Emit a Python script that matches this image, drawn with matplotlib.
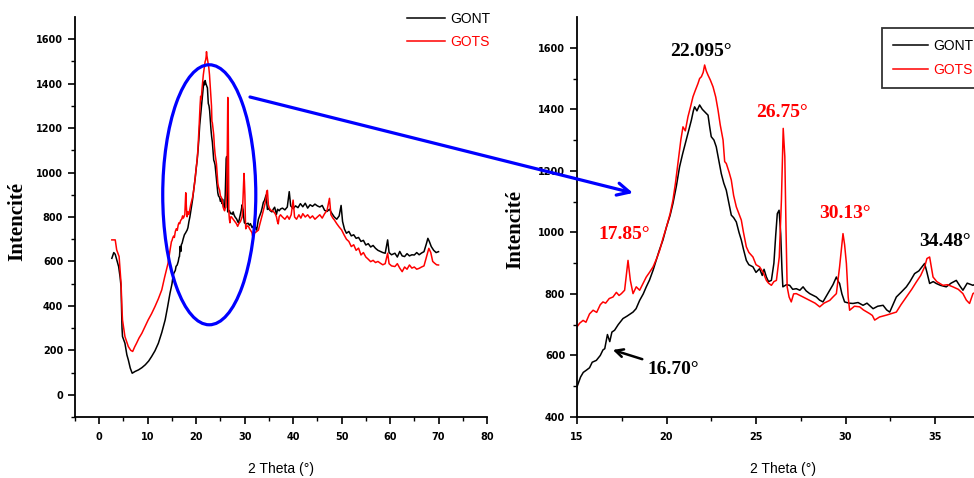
import matplotlib
matplotlib.use("Agg")
import matplotlib.pyplot as plt
from matplotlib.patches import Ellipse

# GONT (black) diffractogram
gont_x = [2.6, 3.0, 3.3, 3.7, 4.0, 4.3, 4.5, 4.7, 4.8, 5.3, 5.7, 6.0, 6.4, 6.8, 7.4, 8.1, 8.8, 9.5,
          10.2, 10.8, 11.5, 12.2, 12.9, 13.6, 14.1, 14.6,
          15.0, 15.2, 15.35, 15.52, 15.7, 15.85, 16.08, 16.3, 16.45, 16.55, 16.7, 16.83, 16.95, 17.1,
          17.3, 17.57, 17.8, 18.13, 18.3, 18.5, 18.7, 18.87, 19.05, 19.25, 19.4, 19.6, 19.8, 20.0,
          20.2, 20.36, 20.55, 20.73, 20.9, 21.1, 21.25, 21.39, 21.5, 21.57, 21.7, 21.85, 22.0, 22.13,
          22.25, 22.32, 22.42, 22.5, 22.65, 22.78, 22.9, 23.06, 23.2, 23.34, 23.5, 23.62, 23.75, 23.9,
          24.05, 24.18, 24.3, 24.46, 24.6, 24.83, 25.0, 25.2, 25.35, 25.45, 25.58, 25.7, 25.86, 26.0,
          26.1, 26.19, 26.29, 26.38, 26.45, 26.5, 26.7, 26.88, 27.05, 27.25, 27.45, 27.63, 27.8, 28.0,
          28.2, 28.37, 28.55, 28.74, 28.9, 29.12, 29.3, 29.49, 29.6, 29.67, 29.8, 29.95, 30.2, 30.42,
          30.7, 30.98, 31.2, 31.54, 31.8, 32.1, 32.3, 32.47, 32.65, 32.84, 33.1, 33.4, 33.6, 33.86,
          34.1, 34.3, 34.42, 34.55, 34.7, 34.9, 35.07, 35.3, 35.63, 35.9, 36.19, 36.4, 36.56, 36.8,
          37.12, 37.4,
          37.8, 38.3, 38.8, 39.2, 39.5, 40.0, 40.5, 41.0, 41.5, 42.0, 42.5, 43.0, 43.5, 44.0, 44.5,
          45.0, 45.5, 46.0, 46.5, 47.0, 47.5, 48.0, 48.5, 49.0, 49.5, 49.9, 50.2, 50.6, 51.0, 51.5,
          52.0, 52.5, 53.0, 53.5, 54.0, 54.5, 55.0, 55.5, 56.0, 56.5, 57.0, 57.5, 58.0, 58.5, 59.0,
          59.5, 59.8, 60.3, 61.0, 61.5, 62.0, 62.5, 63.0, 63.5, 64.0, 64.5, 65.0, 65.5, 66.0, 66.5,
          67.0, 67.5, 67.8, 68.1, 68.5, 69.0, 69.5, 70.0]
gont_y = [614, 640, 632, 600, 577, 530, 487, 300, 262, 232, 180, 157, 120, 97, 105, 112, 122, 135,
          152, 172, 198, 232, 280, 337, 395, 457,
          498, 530, 545, 552, 560, 578, 584, 600, 618, 622, 668, 645, 676, 682,
          700, 720, 728, 741, 752, 779, 800, 823, 845, 877, 905, 942, 975, 1018,
          1055, 1094, 1150, 1213, 1255, 1300, 1335, 1365, 1395, 1408, 1395, 1414, 1400, 1392,
          1385, 1381, 1340, 1311, 1300, 1278, 1240, 1191, 1160, 1137, 1090, 1056, 1048, 1034,
          1000, 975, 945, 909, 895, 888, 870, 882, 860, 880, 855, 840, 844, 900,
          990, 1061, 1072, 996, 880, 823, 830, 828, 815, 817, 812, 823, 810, 801,
          795, 790, 780, 774, 790, 812, 830, 855, 840, 834, 800, 774, 770, 769,
          772, 763, 770, 752, 760, 763, 748, 741, 765, 790, 805, 823, 840, 866,
          875, 890, 899, 870, 834, 840, 834, 828, 823, 835, 844, 825, 812, 835,
          828, 836,
          840, 832, 845, 914, 850, 838, 850, 842, 860, 846, 862, 840, 855, 848, 858,
          850, 845, 852, 830, 825, 835, 816, 800, 790, 805, 852, 780, 745, 727, 735,
          715, 720, 704, 708, 690, 695, 674, 680, 665, 672, 659, 650, 645, 640, 637,
          697, 640, 630, 637, 620, 645, 625, 622, 635, 625, 630, 629, 640, 630, 638,
          644, 680, 704, 690, 667, 650, 640, 644]

# GOTS (red) diffractogram
gots_x = [2.6, 3.3, 3.6, 4.1, 4.3, 4.5, 4.7, 4.8, 5.3, 6.0, 6.5, 6.9, 7.3, 7.7, 8.2, 8.8, 9.4, 10.1,
          10.8, 11.5, 12.2, 12.9, 13.5, 14.2, 14.6, 14.9,
          15.0, 15.15, 15.34, 15.5, 15.7, 15.9, 16.1, 16.3, 16.45, 16.6, 16.8, 17.01, 17.2, 17.35,
          17.48, 17.66, 17.85, 17.98, 18.13, 18.31, 18.5, 18.7, 18.87, 19.05, 19.25, 19.45, 19.62,
          19.8, 20.0, 20.2, 20.36, 20.5, 20.64, 20.8, 20.92, 21.05, 21.2, 21.35, 21.48, 21.6, 21.76,
          21.85, 21.95, 22.05, 22.13, 22.22, 22.32, 22.45, 22.6, 22.75, 22.88, 23.0, 23.16, 23.25,
          23.34, 23.5, 23.62, 23.75, 23.9, 24.05, 24.18, 24.3, 24.46, 24.6, 24.83, 25.0, 25.2, 25.4,
          25.58, 25.7, 25.86, 26.0, 26.14, 26.3, 26.42, 26.52, 26.61, 26.68, 26.74, 26.85, 26.97,
          27.1, 27.25, 27.45, 27.63, 27.8, 28.0, 28.3, 28.56, 28.8, 29.12, 29.3, 29.49, 29.67, 29.86,
          29.95, 30.05, 30.15, 30.23, 30.5, 30.79, 31.0, 31.35, 31.5, 31.63, 31.9, 32.28, 32.5, 32.84,
          33.1, 33.4, 33.7, 33.96, 34.2, 34.42, 34.55, 34.7, 34.89, 35.1, 35.44, 35.7, 36.0, 36.3,
          36.56, 36.75, 36.93, 37.12, 37.4,
          37.8, 38.3, 38.8, 39.2, 39.6, 40.0, 40.3, 40.7, 41.2, 41.6, 42.0, 42.5, 43.0, 43.5, 44.0,
          44.5, 45.0, 45.5, 46.0, 46.5, 47.0, 47.5, 47.8, 48.2, 48.5, 49.0, 49.5, 50.0, 50.5, 51.0,
          51.5, 52.0, 52.5, 53.0, 53.5, 54.0, 54.5, 55.0, 55.5, 56.0, 56.5, 57.0, 57.5, 58.0, 58.5,
          59.0, 59.5, 59.8, 60.3, 61.0, 61.5, 62.0, 62.5, 63.0, 63.5, 64.0, 64.5, 65.0, 65.5, 66.0,
          66.5, 67.0, 67.5, 68.0, 68.4, 68.8, 69.2, 69.6, 70.0]
gots_y = [697, 697, 652, 622, 560, 502, 380, 337, 262, 217, 200, 195, 215, 232, 255, 277, 305, 337,
          365, 397, 432, 472, 530, 592, 650, 690,
          693, 705, 714, 708, 735, 747, 740, 765, 774, 770, 785, 790, 805, 795,
          801, 812, 909, 844, 801, 823, 812, 835, 855, 870, 888, 915, 942,
          980, 1018, 1060, 1105, 1160, 1224, 1300, 1343, 1330, 1376, 1410, 1441, 1460, 1484,
          1500, 1506, 1520, 1544, 1525, 1511, 1495, 1473, 1440, 1397, 1350, 1300, 1230,
          1224, 1195, 1170, 1120, 1083, 1060, 1040, 1000, 953, 935, 920, 895, 888, 870,
          844, 835, 828, 840, 844, 920, 1105, 1338, 1246, 1000, 823, 790, 774,
          800, 801, 795, 790, 785, 779, 770, 758, 770, 779, 790, 801, 888, 996,
          960, 899, 790, 747, 760, 758, 748, 736, 730, 715, 725, 731, 735, 741,
          765, 790, 815, 839, 860, 888, 915, 920, 855, 840, 828, 830, 823, 815,
          801, 780, 769, 801, 810,
          800, 790, 805, 790, 810, 876, 800, 790, 810, 795, 815, 800, 810, 795, 805,
          790, 800, 810, 795, 815, 830, 884, 810, 795, 787, 770, 755, 742, 720, 700,
          690, 667, 675, 650, 660, 629, 640, 620, 610, 599, 605, 595, 600, 592, 585,
          590, 637, 590, 580, 577, 590, 570, 554, 575, 565, 584, 570, 575, 565, 569,
          575, 580, 620, 659, 640, 600, 592, 585, 584]

# peak labels of the zoomed panel: text, x, y, colour
peak_labels = ["22.095°", "26.75°", "17.85°", "30.13°", "34.48°"]
peak_x = [21.93, 26.45, 17.63, 29.97, 35.56]
peak_y = [1587, 1389, 992, 1063, 969]
peak_colors = ["black", "red", "red", "red", "black"]

W, H = 974, 478
TICK_FONT = dict(family="DejaVu Sans", weight="bold", size=7)


def style_axes(ax):
    """Origin-like axes: left and bottom spines, outward ticks"""
    ax.spines["top"].set_visible(False)
    ax.spines["right"].set_visible(False)
    for s in ("left", "bottom"):
        ax.spines[s].set_linewidth(1.3)
    ax.tick_params(which="major", direction="out", length=5, width=1.2, pad=3.5)
    ax.tick_params(axis="x", which="major", pad=6)
    ax.tick_params(which="minor", direction="out", length=3, width=1.0)
    for lab in ax.get_xticklabels() + ax.get_yticklabels():
        lab.set_fontproperties(TICK_FONT)
    ax.set_ylabel("Intencité", family="Liberation Serif", weight="bold", size=15)
    ax.set_xlabel("2 Theta (°)", family="Liberation Sans", size=10)


fig = plt.figure(figsize=(W / 100, H / 100), dpi=100)
ax1 = fig.add_axes([75 / W, 1 - 417 / H, 412 / W, 400 / H])
ax2 = fig.add_axes([577 / W, 1 - 417 / H, 447.5 / W, 400 / H])
ax2.patch.set_visible(False)  # so the blue arrow shows over the right panel

# left: full scan
ax1.plot(gont_x, gont_y, color="black", lw=1.1, label="GONT")
ax1.plot(gots_x, gots_y, color="red", lw=1.1, label="GOTS")
ax1.set_xlim(-5, 80)
ax1.set_ylim(-100, 1700)
ax1.set_xticks(range(0, 81, 10))
ax1.set_xticks(range(-5, 81, 10), minor=True)
ax1.set_yticks(range(0, 1601, 200))
ax1.set_yticks(range(-100, 1700, 200), minor=True)
style_axes(ax1)
ax1.yaxis.set_label_coords(-48 / 412, 0.49)
ax1.xaxis.set_label_coords(0.5, -45 / 400)
ax1.add_patch(Ellipse((22.7, 900), 19.2, 1170, fill=False, edgecolor="blue", lw=2.3,
                      zorder=5, clip_on=False))
ax1.legend(loc="upper left", bbox_to_anchor=(407 / W, 1 - 12 / H), bbox_transform=fig.transFigure,
           frameon=False, borderpad=0, borderaxespad=0, handlelength=2.7, handletextpad=0.4,
           labelspacing=0.65, prop=dict(family="Liberation Sans", size=10), labelcolor="linecolor")

# right: zoom on 15-37 degrees
ax2.plot(gont_x, gont_y, color="black", lw=1.1, label="GONT")
ax2.plot(gots_x, gots_y, color="red", lw=1.1, label="GOTS")
ax2.set_xlim(15, 40)
ax2.set_ylim(400, 1700)
ax2.set_xticks(range(15, 36, 5))
ax2.set_xticks([17.5, 22.5, 27.5, 32.5, 37.5], minor=True)
ax2.set_yticks(range(400, 1601, 200))
ax2.set_yticks(range(500, 1700, 200), minor=True)
style_axes(ax2)
ax2.yaxis.set_label_coords(-52 / 447.5, 0.47)
ax2.xaxis.set_label_coords((783 - 577) / 447.5, -45 / 400)
for txt, px, py, c in zip(peak_labels, peak_x, peak_y, peak_colors):
    ax2.text(px, py, txt, color=c, ha="center", va="center", family="Liberation Serif",
             weight="bold", size=14)
ax2.annotate("16.70°", xy=(17.0, 618), xytext=(18.95, 556), ha="left", va="center",
             family="Liberation Serif", weight="bold", size=14,
             arrowprops=dict(arrowstyle="->", color="black", lw=1.8, shrinkA=2, shrinkB=0,
                             mutation_scale=14))
leg = fig.legend(*ax2.get_legend_handles_labels(), loc="upper left",
                 bbox_to_anchor=(882 / W, 1 - 28 / H), borderaxespad=0, borderpad=0.8,
                 handlelength=2.5, handletextpad=0.4, labelspacing=0.7, fancybox=False,
                 edgecolor="black", prop=dict(family="Liberation Sans", size=10),
                 labelcolor="linecolor")
leg.get_frame().set_linewidth(1.3)

# blue arrow from the circled region to the zoomed panel
fig.add_artist(matplotlib.patches.FancyArrowPatch(
    (250 / W, 1 - 97 / H), (633 / W, 1 - 193 / H), transform=fig.transFigure,
    arrowstyle="->", color="blue", lw=2.3, mutation_scale=22, shrinkA=0, shrinkB=0, zorder=10))

fig.savefig("out.png", dpi=100)
